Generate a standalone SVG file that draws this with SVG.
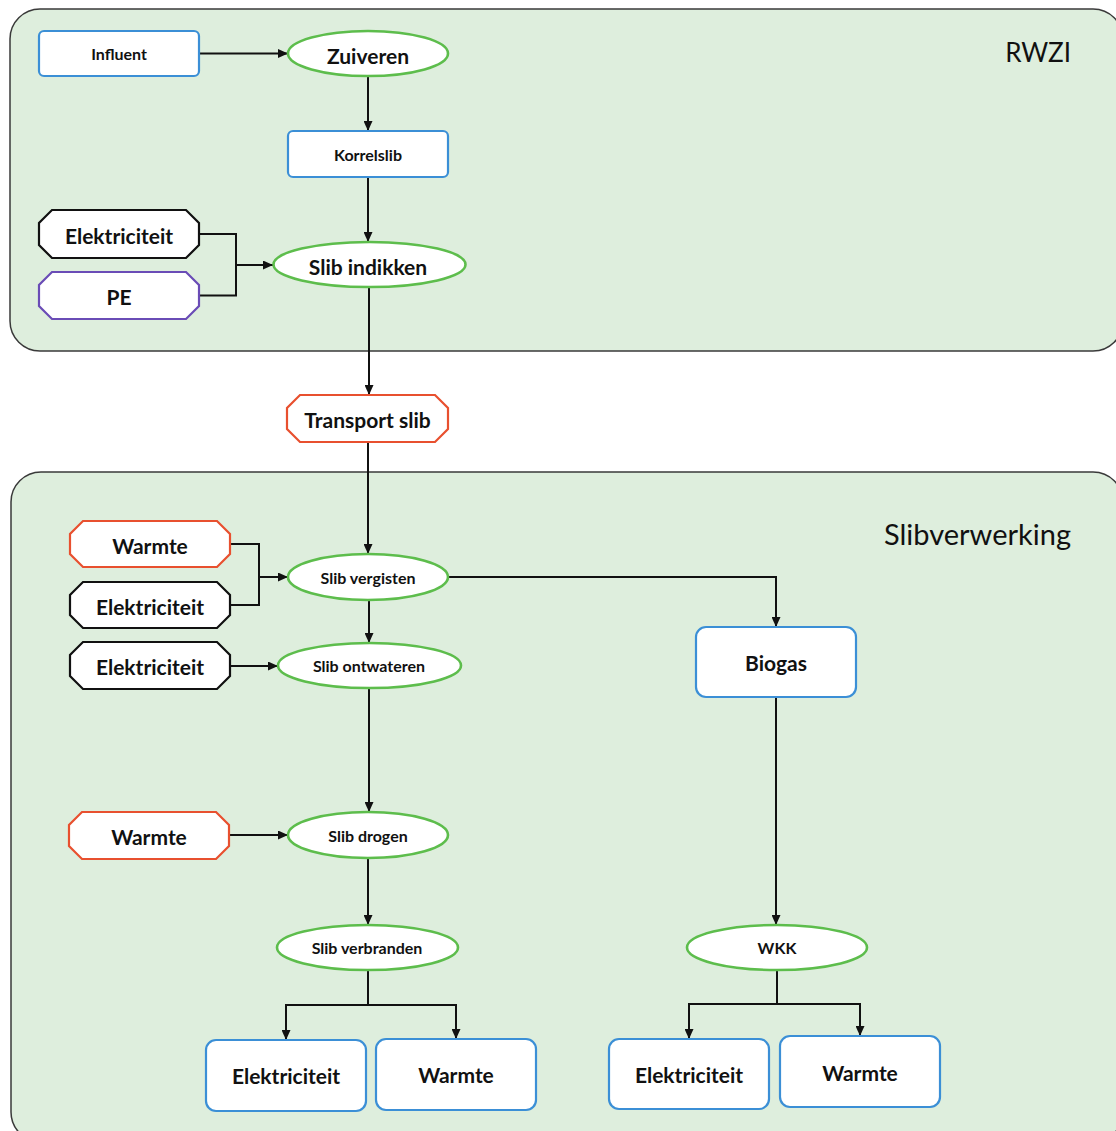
<svg xmlns="http://www.w3.org/2000/svg" width="1116" height="1131" viewBox="0 0 1116 1131">
  <style>
    .zone { fill: #deeedd; stroke: #3a3a3a; stroke-width: 1.5; }
    .zone-label { font-family: Lato, "Liberation Sans", sans-serif; fill: #111; text-anchor: end; }
    .box { fill: #fff; stroke: #3b8fd6; stroke-width: 2.2; }
    .proc { fill: #fff; stroke: #5dbd4c; stroke-width: 2.6; }
    .in-black { fill: #fff; stroke: #111; stroke-width: 2.2; }
    .in-red { fill: #fff; stroke: #e8502f; stroke-width: 2.2; }
    .in-purple { fill: #fff; stroke: #6a4cb6; stroke-width: 2.2; }
    .t { font-family: Lato, "Liberation Sans", sans-serif; font-weight: bold; fill: #111; text-anchor: middle; dominant-baseline: central; }
    .big { font-size: 21px; }
    .small { font-size: 16px; }
    .wire { fill: none; stroke: #111; stroke-width: 2; }
  </style>
  <defs>
    <marker id="arrow" markerUnits="userSpaceOnUse" markerWidth="10" markerHeight="9" refX="10" refY="4.5" orient="auto">
      <path d="M0,0 L10,4.5 L0,9 z" fill="#111"/>
    </marker>
  </defs>

  <rect width="1116" height="1131" fill="#fff"/>

  <!-- zones -->
  <g id="zone-rwzi">
    <rect class="zone" x="10" y="9" width="1113" height="342" rx="30"/>
    <text class="zone-label" x="1071" y="62" font-size="26">RWZI</text>
  </g>
  <g id="zone-slibverwerking">
    <rect class="zone" x="11" y="472" width="1112" height="670" rx="30"/>
    <text class="zone-label" x="1071" y="545" font-size="29">Slibverwerking</text>
  </g>

  <!-- connectors -->
  <g id="connectors">
    <path class="wire" d="M199,53.5 H288" marker-end="url(#arrow)"/>
    <path class="wire" d="M368,76 V131" marker-end="url(#arrow)"/>
    <path class="wire" d="M368,177 V242" marker-end="url(#arrow)"/>
    <path class="wire" d="M199,234 H236 V295.5 H199"/>
    <path class="wire" d="M236,265 H273" marker-end="url(#arrow)"/>
    <path class="wire" d="M369,287 V395" marker-end="url(#arrow)"/>
    <path class="wire" d="M368,442 V554" marker-end="url(#arrow)"/>
    <path class="wire" d="M230,544 H259 V605 H230"/>
    <path class="wire" d="M259,577 H288" marker-end="url(#arrow)"/>
    <path class="wire" d="M369,600 V643" marker-end="url(#arrow)"/>
    <path class="wire" d="M230,666 H278" marker-end="url(#arrow)"/>
    <path class="wire" d="M448,577 H776 V627" marker-end="url(#arrow)"/>
    <path class="wire" d="M369,688 V812" marker-end="url(#arrow)"/>
    <path class="wire" d="M229,835 H288" marker-end="url(#arrow)"/>
    <path class="wire" d="M368,858 V925" marker-end="url(#arrow)"/>
    <path class="wire" d="M368,970 V1005 H286 V1040" marker-end="url(#arrow)"/>
    <path class="wire" d="M368,1005 H456 V1039" marker-end="url(#arrow)"/>
    <path class="wire" d="M776,697 V925" marker-end="url(#arrow)"/>
    <path class="wire" d="M777,970 V1004 H689 V1039" marker-end="url(#arrow)"/>
    <path class="wire" d="M777,1004 H860 V1036" marker-end="url(#arrow)"/>
  </g>

  <!-- RWZI nodes -->
  <g id="influent">
    <rect class="box" x="39" y="31" width="160" height="45" rx="5"/>
    <text class="t small" x="119" y="53">Influent</text>
  </g>
  <g id="zuiveren">
    <ellipse class="proc" cx="368" cy="53.5" rx="80" ry="22.5"/>
    <text class="t big" x="368" y="55">Zuiveren</text>
  </g>
  <g id="korrelslib">
    <rect class="box" x="288" y="131" width="160" height="46" rx="5"/>
    <text class="t small" x="368" y="154">Korrelslib</text>
  </g>
  <g id="elektriciteit-indikken">
    <polygon class="in-black" points="52,210 186,210 199,223 199,245 186,258 52,258 39,245 39,223"/>
    <text class="t big" x="119" y="235">Elektriciteit</text>
  </g>
  <g id="pe">
    <polygon class="in-purple" points="52,272 186,272 199,285 199,306 186,319 52,319 39,306 39,285"/>
    <text class="t big" x="119" y="296">PE</text>
  </g>
  <g id="slib-indikken">
    <ellipse class="proc" cx="369.5" cy="264.5" rx="96" ry="22.5"/>
    <text class="t big" x="368" y="266">Slib indikken</text>
  </g>

  <!-- transport -->
  <g id="transport-slib">
    <polygon class="in-red" points="300,395 435,395 448,408 448,429 435,442 300,442 287,429 287,408"/>
    <text class="t big" x="367.5" y="419.5">Transport slib</text>
  </g>

  <!-- Slibverwerking nodes -->
  <g id="warmte-vergisten">
    <polygon class="in-red" points="83,521 217,521 230,534 230,554 217,567 83,567 70,554 70,534"/>
    <text class="t big" x="150" y="545">Warmte</text>
  </g>
  <g id="elektriciteit-vergisten">
    <polygon class="in-black" points="83,582 217,582 230,595 230,615 217,628 83,628 70,615 70,595"/>
    <text class="t big" x="150" y="606">Elektriciteit</text>
  </g>
  <g id="slib-vergisten">
    <ellipse class="proc" cx="368" cy="577" rx="80" ry="23"/>
    <text class="t small" x="368" y="577">Slib vergisten</text>
  </g>
  <g id="elektriciteit-ontwateren">
    <polygon class="in-black" points="83,642 217,642 230,655 230,676 217,689 83,689 70,676 70,655"/>
    <text class="t big" x="150" y="666.5">Elektriciteit</text>
  </g>
  <g id="slib-ontwateren">
    <ellipse class="proc" cx="369.5" cy="665.5" rx="91.5" ry="22.5"/>
    <text class="t small" x="369" y="665.5">Slib ontwateren</text>
  </g>
  <g id="warmte-drogen">
    <polygon class="in-red" points="82,812 216,812 229,825 229,846 216,859 82,859 69,846 69,825"/>
    <text class="t big" x="149" y="836.5">Warmte</text>
  </g>
  <g id="slib-drogen">
    <ellipse class="proc" cx="368" cy="835" rx="80" ry="23"/>
    <text class="t small" x="368" y="835">Slib drogen</text>
  </g>
  <g id="slib-verbranden">
    <ellipse class="proc" cx="367.5" cy="947.5" rx="90.5" ry="22.5"/>
    <text class="t small" x="367" y="947.5">Slib verbranden</text>
  </g>
  <g id="elektriciteit-verbranden">
    <rect class="box" x="206" y="1040" width="160" height="71" rx="10"/>
    <text class="t big" x="286" y="1075.5">Elektriciteit</text>
  </g>
  <g id="warmte-verbranden">
    <rect class="box" x="376" y="1039" width="160" height="71" rx="10"/>
    <text class="t big" x="456" y="1074">Warmte</text>
  </g>
  <g id="biogas">
    <rect class="box" x="696" y="627" width="160" height="70" rx="10"/>
    <text class="t big" x="776" y="662">Biogas</text>
  </g>
  <g id="wkk">
    <ellipse class="proc" cx="777" cy="947.5" rx="90" ry="22.5"/>
    <text class="t small" x="777" y="947.5">WKK</text>
  </g>
  <g id="elektriciteit-wkk">
    <rect class="box" x="609" y="1039" width="160" height="70" rx="10"/>
    <text class="t big" x="689" y="1074.5">Elektriciteit</text>
  </g>
  <g id="warmte-wkk">
    <rect class="box" x="780" y="1036" width="160" height="71" rx="10"/>
    <text class="t big" x="860" y="1072">Warmte</text>
  </g>
</svg>
